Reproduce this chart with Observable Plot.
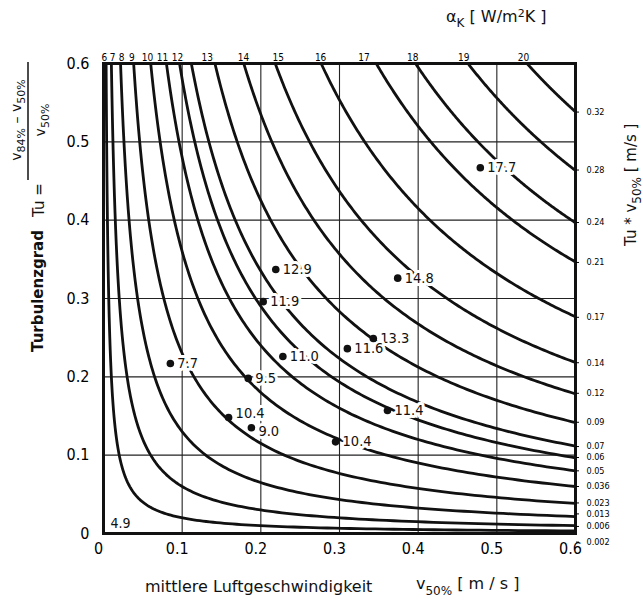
<!DOCTYPE html>
<html>
<head>
<meta charset="utf-8">
<script src="https://cdn.jsdelivr.net/npm/d3@7"></script>
<script src="https://cdn.jsdelivr.net/npm/@observablehq/plot@0.6"></script>
<style>
  html, body { margin: 0; padding: 0; background: #fff; }
  #chart svg { display: block; }
</style>
</head>
<body>
<div id="chart"></div>
<script>
// ---- data ----
// isolines Tu * v50% = const (value where each curve meets the right edge)
const curveProducts = [0.323, 0.278, 0.238, 0.208, 0.166, 0.131, 0.107, 0.085, 0.067, 0.058, 0.048, 0.036, 0.023, 0.013, 0.006, 0.002];
// right-hand tick labels (Tu * v50%) and their positions on the Tu axis
const rightTickLabels = ["0.32", "0.28", "0.24", "0.21", "0.17", "0.14", "0.12", "0.09", "0.07", "0.06", "0.05", "0.036", "0.023", "0.013", "0.006", "0.002"];
const rightTickTu = [0.538, 0.464, 0.397, 0.346, 0.276, 0.218, 0.179, 0.142, 0.111, 0.097, 0.080, 0.060, 0.039, 0.025, 0.009, -0.011];
// top tick labels (alpha_K) and their positions on the v axis
const alphaLabels = ["6", "7", "8", "9", "10", "11", "12", "13", "14", "15", "16", "17", "18", "19", "20"];
const alphaTickV = [0.001, 0.0115, 0.023, 0.036, 0.056, 0.075, 0.094, 0.132, 0.178, 0.222, 0.276, 0.331, 0.393, 0.458, 0.534];
// measured points
const pointV = [0.479, 0.219, 0.374, 0.203, 0.343, 0.310, 0.228, 0.085, 0.184, 0.361, 0.159, 0.188, 0.295];
const pointTu = [0.467, 0.337, 0.326, 0.296, 0.249, 0.236, 0.226, 0.217, 0.198, 0.157, 0.148, 0.135, 0.117];
const pointLabels = ["17.7", "12.9", "14.8", "11.9", "13.3", "11.6", "11.0", "7.7", "9.5", "11.4", "10.4", "9.0", "10.4"];
// corner label
const cornerLabel = {v: 0.009, tu: 0.013, text: "4.9"};
const axisTicks = [0, 0.1, 0.2, 0.3, 0.4, 0.5, 0.6];
const gridTicks = [0.1, 0.2, 0.3, 0.4, 0.5];

// ---- build curve table: Tu = const / v, from the top edge to the right edge ----
const curves = [];
curveProducts.forEach((c, k) => {
  const vmin = c / 0.6, vmax = 0.6, n = 160;
  for (let i = 0; i <= n; i++) {
    const v = vmin * Math.pow(vmax / vmin, i / n);
    curves.push({id: k, v, tu: c / v});
  }
});
const points = pointV.map((v, i) => ({i, v, tu: pointTu[i], label: pointLabels[i]}));
// two crowded labels are nudged apart (as in the reference)
const nudgedUp = new Set([10]);
const nudgedDown = new Set([11]);

const font = "'DejaVu Sans Condensed', 'Liberation Sans Narrow', 'DejaVu Sans', sans-serif";
const titleFont = "'DejaVu Sans', sans-serif";
const labelStyle = {x: "v", y: "tu", text: "label", dx: 7, textAnchor: "start", fontSize: 14.5,
  fill: "#111", stroke: "white", strokeWidth: 6, fontWeight: 500};

const chart = Plot.plot({
  width: 643,
  height: 602,
  marginLeft: 103,
  marginRight: 68,
  marginTop: 63,
  marginBottom: 69,
  style: {fontFamily: font, background: "white", color: "black"},
  x: {domain: [0, 0.6]},
  y: {domain: [0, 0.6]},
  marks: [
    Plot.gridX(gridTicks, {stroke: "#222", strokeOpacity: 1, strokeWidth: 1.1}),
    Plot.gridY(gridTicks, {stroke: "#222", strokeOpacity: 1, strokeWidth: 1.1}),
    Plot.line(curves, {x: "v", y: "tu", z: "id", stroke: "#111", strokeWidth: 2.8, curve: "linear"}),
    Plot.text(points, {...labelStyle, filter: d => !nudgedUp.has(d.i) && !nudgedDown.has(d.i)}),
    Plot.text(points, {...labelStyle, dy: -4, filter: d => nudgedUp.has(d.i)}),
    Plot.text(points, {...labelStyle, dy: 4, filter: d => nudgedDown.has(d.i)}),
    Plot.dot(points, {x: "v", y: "tu", r: 3.8, fill: "#111", stroke: "none"}),
    Plot.text([cornerLabel], {x: "v", y: "tu", text: "text", textAnchor: "start", fontSize: 14, fill: "#111"}),
    Plot.frame({stroke: "#111", strokeWidth: 3}),
    Plot.axisX(axisTicks, {anchor: "bottom", tickSize: 0, tickPadding: 9, dx: -5, fontSize: 16, fontWeight: 500, tickFormat: d => d === 0 ? "0" : String(d), label: null}),
    Plot.axisY(axisTicks, {anchor: "left", tickSize: 0, tickPadding: 14, fontSize: 16, fontWeight: 500, tickFormat: d => d === 0 ? "0" : String(d), label: null}),
    Plot.axisX(alphaTickV, {anchor: "top", tickSize: 0, tickPadding: 3, fontSize: 10, tickFormat: (d, i) => alphaLabels[i], label: null}),
    Plot.axisY(rightTickTu, {anchor: "right", tickSize: 3, tickPadding: 8, fontSize: 9, tickFormat: (d, i) => rightTickLabels[i], label: null})
  ]
});

document.getElementById("chart").appendChild(chart);

// ---- axis titles with sub/superscripts ----
const svg = d3.select(chart);
const g = svg.append("g").attr("font-family", titleFont).attr("fill", "#111").attr("text-anchor", "start");

// bottom title
const bt = g.append("text").attr("x", 145).attr("y", 592).attr("font-size", 16);
bt.append("tspan").text("mittlere Luftgeschwindigkeit");
const bt2 = g.append("text").attr("x", 416).attr("y", 589).attr("font-size", 16);
bt2.append("tspan").text("v");
bt2.append("tspan").attr("font-size", 12).attr("dy", 6).text("50%");
bt2.append("tspan").attr("dy", -6).text(" [ m / s ]");

// top title
const tt = g.append("text").attr("x", 446).attr("y", 22).attr("font-size", 16);
tt.append("tspan").text("α");
tt.append("tspan").attr("font-size", 12).attr("dy", 5).text("K");
tt.append("tspan").attr("dy", -5).text(" [ W/m");
tt.append("tspan").attr("font-size", 11).attr("dy", -5).text("2");
tt.append("tspan").attr("dy", 5).text("K ]");

// left titles (rotated)
g.append("text").attr("transform", "translate(43,291) rotate(-90)").attr("text-anchor", "middle")
  .attr("font-size", 15).attr("font-weight", 600).text("Turbulenzgrad");

g.append("text").attr("transform", "translate(44,217) rotate(-90)").attr("font-size", 15).text("Tu =");
const num = g.append("text").attr("transform", "translate(21,120) rotate(-90)").attr("text-anchor", "middle").attr("font-size", 14);
num.append("tspan").text("v");
num.append("tspan").attr("font-size", 11).attr("dy", 4).text("84%");
num.append("tspan").attr("dy", -4).text(" – v");
num.append("tspan").attr("font-size", 11).attr("dy", 4).text("50%");
g.append("line").attr("x1", 28).attr("x2", 28).attr("y1", 62).attr("y2", 180).attr("stroke", "#111").attr("stroke-width", 1.5);
const den = g.append("text").attr("transform", "translate(45,120) rotate(-90)").attr("text-anchor", "middle").attr("font-size", 14);
den.append("tspan").text("v");
den.append("tspan").attr("font-size", 11).attr("dy", 4).text("50%");

// right title (rotated)
const rt = g.append("text").attr("transform", "translate(636,246) rotate(-90)").attr("font-size", 15);
rt.append("tspan").text("Tu * v");
rt.append("tspan").attr("font-size", 12).attr("dy", 5).text("50%");
rt.append("tspan").attr("dy", -5).text(" [ m/s ]");
</script>
</body>
</html>
